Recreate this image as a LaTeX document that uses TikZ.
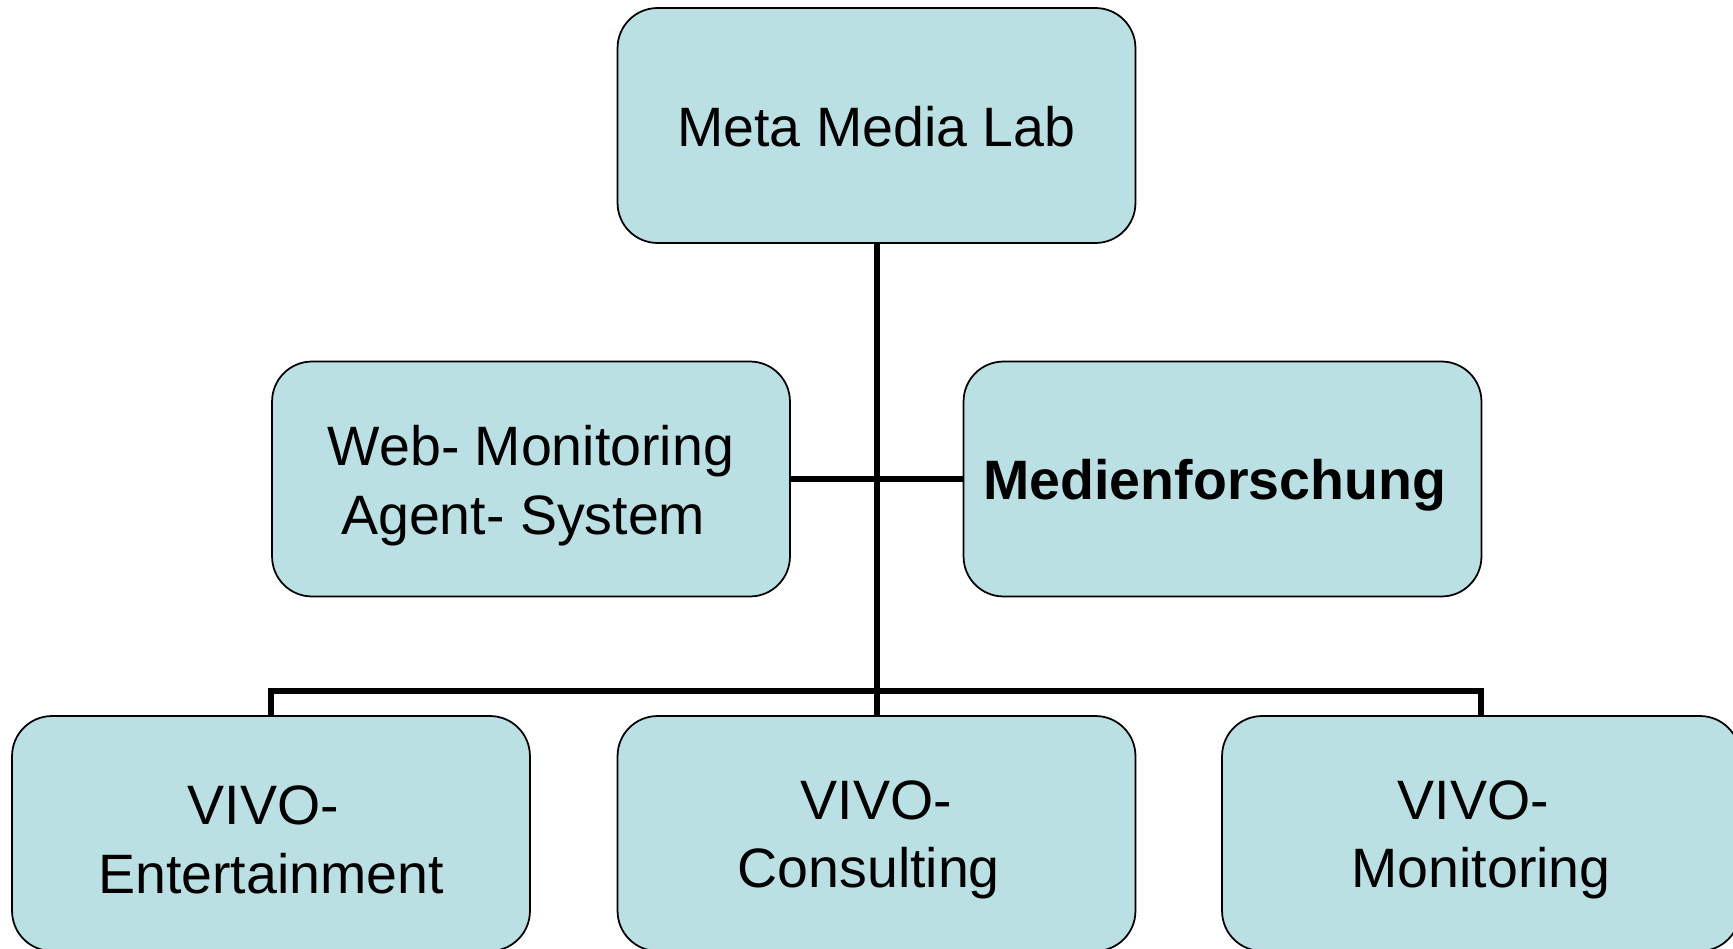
\documentclass[tikz,border=0pt]{standalone}
\usepackage{fontspec}
\setmainfont{Liberation Sans}
\definecolor{boxfill}{RGB}{187,224,227}
\begin{document}
\begin{tikzpicture}[x=0.02cm,y=-0.02cm,
  orgbox/.style={draw=black,line width=1pt,fill=boxfill,rounded corners=0.8cm,
    minimum width=10.36cm,minimum height=4.7cm,inner sep=0pt},
  txt/.style={align=center,inner sep=0pt,font=\fontsize{31.6}{39}\selectfont},
  boxtext/.style={label={[txt,yshift=-0.13cm]center:#1}},
  toptext/.style={label={[txt,yshift=-0.03cm]center:#1}},
  conn/.style={line width=3.4pt,draw=black}]
\useasboundingbox (0,0) rectangle (1733,949);
\node[orgbox,toptext={Meta Media Lab}] (top) at (876.5,125.5) {};
\node[orgbox,boxtext={Web- Monitoring\\Agent- System\hspace*{0.28em}}] (lm) at (531,479) {};
\node[orgbox,boxtext={\bfseries Medienforschung\hspace*{0.28em}}] (rm) at (1222.5,479) {};
\node[orgbox,boxtext={VIVO-\hspace*{0.28em}\\Entertainment}] (bl) at (271,833.5) {};
\node[orgbox,boxtext={VIVO-\\Consulting\hspace*{0.28em}}] (bm) at (876.5,833.5) {};
\node[orgbox,boxtext={VIVO-\hspace*{0.28em}\\Monitoring}] (br) at (1481,833.5) {};
\coordinate (bus) at (876.5,691);
\draw[conn] (top.south) -- (bm.north);
\draw[conn] (lm.east) -- (rm.west);
\draw[conn] (bl.north) |- (bus) -| (br.north);
\end{tikzpicture}
\end{document}
